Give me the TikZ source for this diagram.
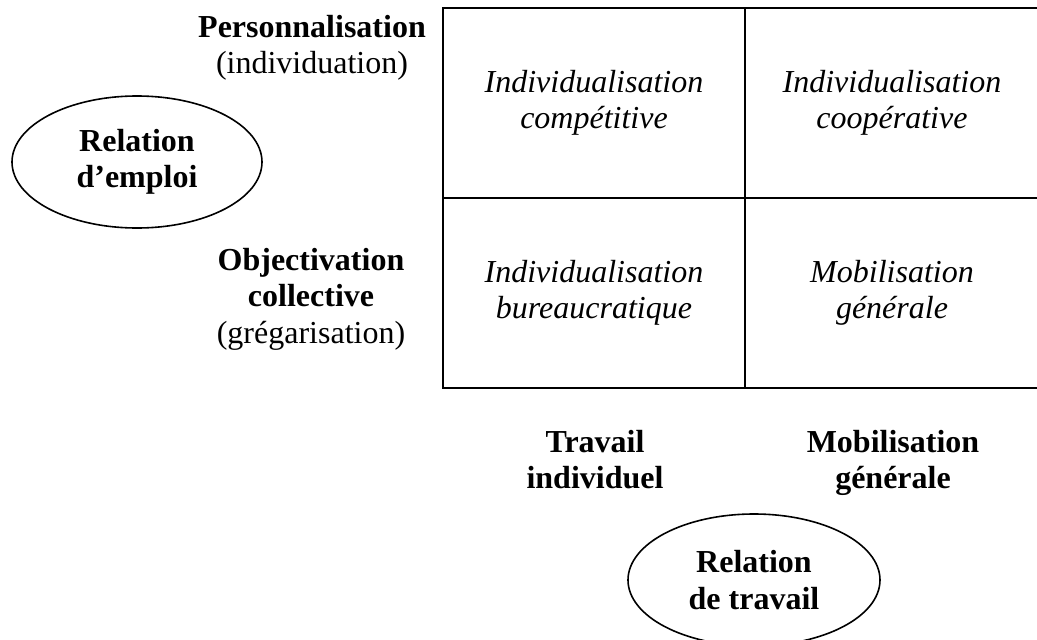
\documentclass[tikz,border=0pt]{standalone}
\usepackage{fontspec}
\setmainfont{Liberation Serif}
\usetikzlibrary{shapes.geometric}
\begin{document}
\begin{tikzpicture}[x=1pt,y=-1pt,
  txt/.style={font=\fontsize{32}{36.5}\selectfont, align=center, inner sep=0pt},
  cell/.style={draw, line width=2.8pt, minimum height=190pt, inner sep=0pt,
     font=\fontsize{32}{36.5}\selectfont\itshape, align=center},
  oval/.style={draw, ellipse, line width=1.6pt, minimum width=250pt, minimum height=132pt,
     inner sep=0pt, font=\fontsize{32}{36.5}\selectfont\bfseries, align=center}]
\useasboundingbox (0,0) rectangle (1037,640);
\node[cell, minimum width=302pt] (tl) at (594,103) {Individualisation\\compétitive};
\node[cell, minimum width=294pt] (tr) at (892,103) {Individualisation\\coopérative};
\node[cell, minimum width=302pt] (bl) at (594,293) {Individualisation\\bureaucratique};
\node[cell, minimum width=294pt] (br) at (892,293) {Mobilisation\\générale};
\node[txt] (perso) at (312,48) {\textbf{Personnalisation}\\(individuation)};
\node[txt] (objec) at (311,299) {\textbf{Objectivation}\\\textbf{collective}\\(grégarisation)};
\node[oval] (emploi) at (137,162) {Relation\\d’emploi};
\node[txt, font=\fontsize{32}{36.5}\selectfont\bfseries] (travind) at (595,463) {Travail\\individuel\vphantom{g}};
\node[txt, font=\fontsize{32}{36.5}\selectfont\bfseries] (mobgen) at (893,463) {Mobilisation\\générale};
\node[oval, minimum width=252pt] (travail) at (754,580) {Relation\\de travail};
\end{tikzpicture}
\end{document}
